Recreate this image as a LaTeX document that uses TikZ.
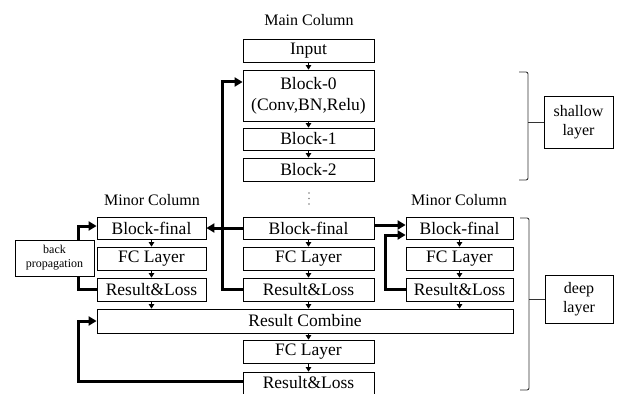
\documentclass[tikz,border=0pt]{standalone}
\usepackage{fontspec}
\setmainfont{Liberation Serif}
\usetikzlibrary{arrows.meta,calc}
\begin{document}
\begin{tikzpicture}[x=1pt,y=-1pt,
  box/.style={draw,line width=0.8pt,inner sep=0pt,align=center,font=\fontsize{17.5}{21}\selectfont},
  mainbox/.style={box,minimum width=131pt,minimum height=23pt},
  leftbox/.style={box,minimum width=109pt,minimum height=23pt},
  rightbox/.style={box,minimum width=107pt,minimum height=23pt},
  sidebox/.style={box,font=\fontsize{16}{19}\selectfont},
  title/.style={font=\fontsize{16}{19}\selectfont,inner sep=0pt},
  thin/.style={line width=0.8pt,-{Triangle[length=4.5pt,width=5.5pt]}},
  thk/.style={line width=3pt},
  thkarrow/.style={thk,-{Triangle[length=8pt,width=9pt]}},
  brc/.style={line width=0.9pt,draw=black!80,rounded corners=2pt}]
\useasboundingbox (0,0) rectangle (620,393);
% titles
\node[title] (tmain) at (309,20) {Main Column};
\node[title] (tleft) at (152,200) {Minor Column};
\node[title] (tright) at (459,200) {Minor Column};
% main column
\node[mainbox] (input) at (308.5,50.5) {Input};
\node[mainbox,minimum height=51pt] (b0) at (308.5,95.5) {Block-0\\(Conv,BN,Relu)};
\node[mainbox,minimum height=22pt] (b1) at (308.5,139) {Block-1};
\node[mainbox] (b2) at (308.5,169.5) {Block-2};
\fill[gray] (309,193) circle (0.8) (309,198.5) circle (0.8) (309,204) circle (0.8);
\node[mainbox,minimum height=22pt] (mbf) at (308.5,228) {Block-final};
\node[mainbox] (mfc) at (308.5,258.5) {FC Layer};
\node[mainbox] (mrl) at (308.5,289.5) {Result\&Loss};
% left minor
\node[leftbox,minimum height=22pt] (lbf) at (151.5,228) {Block-final};
\node[leftbox] (lfc) at (151.5,258.5) {FC Layer};
\node[leftbox] (lrl) at (151.5,289.5) {Result\&Loss};
% right minor
\node[rightbox,minimum height=22pt] (rbf) at (459.5,228) {Block-final};
\node[rightbox] (rfc) at (459.5,258.5) {FC Layer};
\node[rightbox] (rrl) at (459.5,289.5) {Result\&Loss};
% combine
\node[box,minimum width=416pt,minimum height=24pt] (rc) at (305,321) {Result Combine};
\node[mainbox] (bfc) at (308.5,351.5) {FC Layer};
\node[mainbox,minimum height=22pt] (brl) at (308.5,383) {Result\&Loss};
% side boxes
\node[box,minimum width=79pt,minimum height=36pt,font=\fontsize{12}{14}\selectfont] (bp) at (54.5,258) {back\\propagation};
\node[sidebox,minimum width=69pt,minimum height=52pt] (shallow) at (578.5,122) {shallow\\layer};
\node[sidebox,minimum width=68pt,minimum height=48pt] (deep) at (579,299) {deep\\layer};
% brackets
\coordinate (st) at (519,72);
\coordinate (sb) at (519,180);
\coordinate (sx) at (528,0);
\draw[brc] (st) -- (st -| sx) -- (sb -| sx) -- (sb);
\draw[line width=0.9pt,draw=black!80] (sx |- shallow.west) -- (shallow.west);
\coordinate (dt) at (520,218);
\coordinate (db) at (520,390);
\coordinate (dx) at (529,0);
\draw[brc] (dt) -- (dt -| dx) -- (db -| dx) -- (db);
\draw[line width=0.9pt,draw=black!80] (dx |- deep.west) -- (deep.west);
% thin arrows
\draw[thin] (input) -- (b0);
\draw[thin] (b0) -- (b1);
\draw[thin] (b1) -- (b2);
\draw[thin] (mbf) -- (mfc);
\draw[thin] (mfc) -- (mrl);
\draw[thin] (lbf) -- (lfc);
\draw[thin] (lfc) -- (lrl);
\draw[thin] (rbf) -- (rfc);
\draw[thin] (rfc) -- (rrl);
\draw[thin] (lrl.south) -- (lrl.south |- rc.north);
\draw[thin] (mrl.south) -- (mrl.south |- rc.north);
\draw[thin] (rrl.south) -- (rrl.south |- rc.north);
\draw[thin] (rc.south -| bfc.north) -- (bfc.north);
\draw[thin] (bfc) -- (brl);
% thick feedback lines
\coordinate (mx) at (222,0);
\coordinate (lx) at (78,0);
\coordinate (rx) at (385,0);
\coordinate (b0in) at ([yshift=13.5pt]b0.west);
\coordinate (lbfin) at ([yshift=2pt]lbf.west);
\coordinate (rbfin1) at ([yshift=3pt]rbf.west);
\coordinate (mbfout) at ([yshift=3pt]mbf.east);
\coordinate (rbfin2) at ([yshift=-7pt]rbf.west);
\coordinate (brlout) at ([yshift=2pt]brl.west);
\draw[thkarrow] (mrl.west) -- (mrl.west -| mx) -- (mx |- b0in) -- (b0in);
\draw[thkarrow] (mbf.west) -- (lbf.east);
\draw[thk] (lrl.west) -- (lrl.west -| lx) -- (lx |- bp.south);
\draw[thkarrow] (lx |- bp.north) -- (lx |- lbfin) -- (lbfin);
\draw[thkarrow] (mbfout) -- (rbfin1);
\draw[thkarrow] (rrl.west) -- (rrl.west -| rx) -- (rx |- rbfin2) -- (rbfin2);
\draw[thkarrow] (brlout) -- (brlout -| lx) -- (lx |- rc.west) -- (rc.west);
\end{tikzpicture}
\end{document}
